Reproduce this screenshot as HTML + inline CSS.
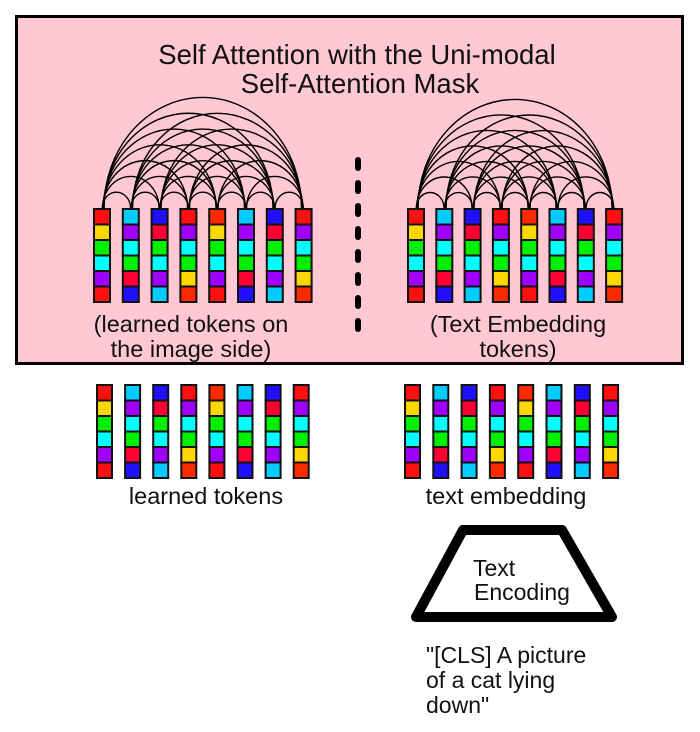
<!DOCTYPE html>
<html><head><meta charset="utf-8"><style>body{margin:0;background:#fff}svg{display:block}text{font-family:"Liberation Sans",Arial,sans-serif;fill:#111}</style></head>
<body>
<svg id="s" width="700" height="732" viewBox="0 0 700 732" xmlns="http://www.w3.org/2000/svg">
<rect x="16.5" y="16.5" width="666" height="347" fill="#ffc8d2" stroke="#000" stroke-width="3"/>
<text x="357" y="64" font-size="27.5" text-anchor="middle">Self Attention with the Uni-modal</text>
<text x="360" y="93" font-size="27.5" text-anchor="middle">Self-Attention Mask</text>
<g stroke="#000" stroke-width="6" stroke-linecap="round">
<line x1="358" y1="160" x2="358" y2="168"/><line x1="358" y1="183" x2="358" y2="191"/><line x1="358" y1="206" x2="358" y2="214"/><line x1="358" y1="229" x2="358" y2="237"/><line x1="358" y1="252" x2="358" y2="260"/><line x1="358" y1="275" x2="358" y2="283"/><line x1="358" y1="298" x2="358" y2="306"/><line x1="358" y1="321" x2="358" y2="329"/>
</g>
<g id="arcs" fill="none" stroke="#000" stroke-width="1.4"></g>
<g id="tok"></g>
<text x="191" y="332" font-size="23.5" text-anchor="middle">(learned tokens on</text>
<text x="191" y="357" font-size="23.5" text-anchor="middle">the image side)</text>
<text x="518" y="332" font-size="23.5" text-anchor="middle">(Text Embedding</text>
<text x="518" y="357" font-size="23.5" text-anchor="middle">tokens)</text>
<text x="206" y="504" font-size="23.5" text-anchor="middle">learned tokens</text>
<text x="506" y="504" font-size="23.5" text-anchor="middle">text embedding</text>
<polygon points="463,530 562,530 612,617 416,617" fill="#fff" stroke="#000" stroke-width="10" stroke-linejoin="round"/>
<text x="473" y="576" font-size="23">Text</text>
<text x="474" y="600" font-size="23">Encoding</text>
<text x="426" y="663" font-size="23">"[CLS] A picture</text>
<text x="426" y="688" font-size="23">of a cat lying</text>
<text x="426" y="713" font-size="23">down"</text>
</svg>
<script>
var R='#ff1010',Y='#ffd700',G='#00ee00',C='#00ffff',P='#a000ff',S='#00ccff',B='#2010ff',K='#ff0033',O='#ff2a00';
var cols=[[R,Y,G,C,P,R],[S,P,C,G,K,B],[B,K,G,C,P,S],[R,P,C,G,Y,O],[O,Y,G,C,P,R],[S,P,C,G,K,B],[B,K,G,C,P,S],[R,P,C,G,Y,O]];
var ns='http://www.w3.org/2000/svg',tok=document.getElementById('tok'),arcs=document.getElementById('arcs');
function group(x0,pitch,y0,h,w,withArcs){
 var ch=h/6;
 for(var i=0;i<8;i++){var x=x0+i*pitch;
  for(var k=0;k<6;k++){var r=document.createElementNS(ns,'rect');
   r.setAttribute('x',x);r.setAttribute('y',y0+k*ch);r.setAttribute('width',w);r.setAttribute('height',ch);
   r.setAttribute('fill',cols[i][k]);r.setAttribute('stroke','#111');r.setAttribute('stroke-width','2');tok.appendChild(r);}}
 if(withArcs){for(var i=0;i<8;i++)for(var j=i+1;j<8;j++){
   var xa=x0+i*pitch+w/2+(j-i)*0.3,xb=x0+j*pitch+w/2-(j-i)*0.3,rx=(xb-xa)/2,ry=rx*1.12;
   var p=document.createElementNS(ns,'path');
   p.setAttribute('d','M'+xa+','+(y0-1)+' A'+rx+','+ry+' 0 0 1 '+xb+','+(y0-1));arcs.appendChild(p);}}
}
group(94,28.8,209,93,16,true);
group(408,28.3,209,93,16,true);
group(97,28.1,385,93,15,false);
group(405,28.3,385,93,15,false);
</script>
</body></html>
